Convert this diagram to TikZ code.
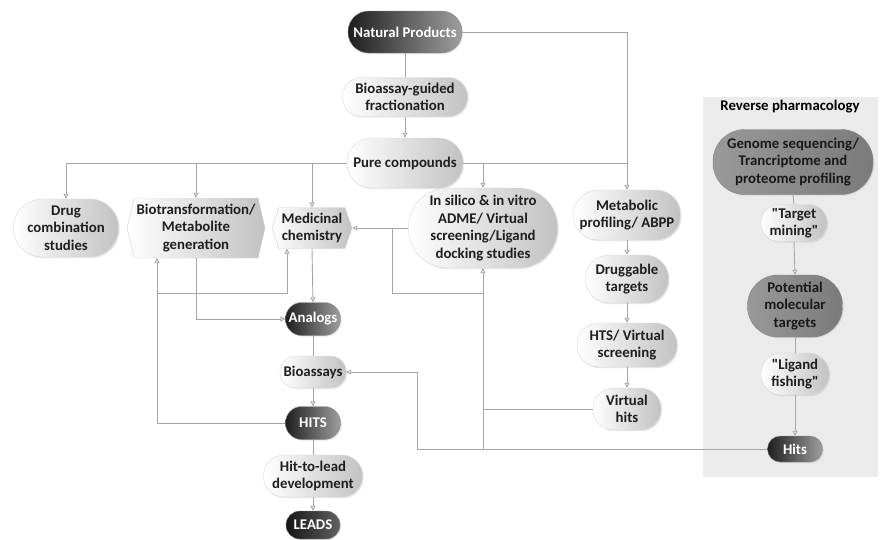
\documentclass[tikz,border=0pt]{standalone}
\usepackage{fontspec}
\setmainfont{Carlito}
\newfontfamily\qfont{Carlito}
\usetikzlibrary{shapes.misc,arrows.meta,shadows}
\definecolor{ln}{HTML}{A6A6A6}
\newcommand{\sq}{{\qfont\bfseries\char34}}
\begin{document}
\begin{tikzpicture}[x=1pt,y=-1pt,
  base/.style={font=\fontsize{14.8}{17.5}\selectfont\bfseries, align=center, inner sep=0pt},
  sz/.style 2 args={minimum width=#1pt, minimum height=#2pt, rounded corners=0.49*#2pt},
  shd/.style={drop shadow={opacity=0.18, shadow xshift=1.2pt, shadow yshift=-1.2pt}},
  lt/.style={base, rectangle, shd, left color=white, right color=black!24, draw=black!15, text=black!88},
  dk/.style={base, rectangle, shd, left color=black!88, right color=black!38, draw=black!45, text=white},
  md/.style={base, rectangle, shd, left color=black!40, right color=black!52, draw=black!50, text=black!90},
  hexa/.style={base, rectangle, text=black!88, path picture={
     \shadedraw[left color=white, right color=black!24, draw=black!18]
       ([xshift=7pt]path picture bounding box.north west) -- ([xshift=-7pt]path picture bounding box.north east)
       -- (path picture bounding box.east) -- ([xshift=-7pt]path picture bounding box.south east)
       -- ([xshift=7pt]path picture bounding box.south west) -- (path picture bounding box.west) -- cycle;}},
  con/.style={draw=ln, line width=0.9pt},
  arr/.style={con, -{Triangle[length=5pt,width=5pt,fill=white]}},
]
\useasboundingbox (0,0) rectangle (880,539);
\fill[white] (0,0) rectangle (880,539);

% Reverse pharmacology panel
\fill[black!8] (703,97) rectangle (878,477);
\node[base] (rpt) at (790,107) {Reverse pharmacology};

% Main flow
\node[dk, sz={114}{42}] (np) at (405,32) {Natural Products};
\node[lt, sz={125}{39}] (bio) at (405,97) {Bioassay-guided\\fractionation};
\node[lt, sz={116}{50}] (pure) at (405,163) {Pure compounds};
\node[lt, sz={105}{58}] (drug) at (66,228) {Drug\\combination\\studies};
\node[hexa, minimum width=138pt, minimum height=60pt] (biot) at (196,228) {Biotransformation/\\Metabolite\\generation};
\node[hexa, minimum width=80pt, minimum height=41pt] (med) at (312,228) {Medicinal\\chemistry};
\node[lt, sz={149}{80}] (insil) at (483,228) {In silico \& in vitro\\ADME/ Virtual\\screening/Ligand\\docking studies};
\node[lt, sz={107}{50}] (metab) at (627,215) {Metabolic\\profiling/ ABPP};
\node[lt, sz={83}{48}] (drugg) at (627,279) {Druggable\\targets};
\node[lt, sz={100}{44}] (hts) at (627,345) {HTS/ Virtual\\screening};
\node[lt, sz={68}{42}] (vhits) at (627,409) {Virtual\\hits};
\node[dk, sz={55}{33}] (ana) at (313,319) {Analogs};
\node[lt, sz={66}{32}] (bas) at (313,372) {Bioassays};
\node[dk, sz={55}{33}] (hits) at (313,423) {HITS};
\node[lt, sz={99}{42}] (h2l) at (313,476) {Hit-to-lead\\development};
\node[dk, sz={54}{28}, left color=black!92, right color=black!62] (leads) at (313,525) {LEADS};

% Reverse pharmacology flow
\node[md, sz={160}{65}] (gen) at (793,162) {Genome sequencing/\\Trancriptome and\\proteome profiling};
\node[lt, sz={66}{37}] (tm) at (794,223) {\sq Target\\mining\sq};
\node[md, sz={95}{62}] (pot) at (795,306) {Potential\\molecular\\targets};
\node[lt, sz={68}{42}] (lf) at (795,374) {\sq Ligand\\fishing\sq};
\node[dk, sz={55}{26}] (rh) at (795,449) {Hits};

% junction coordinates
\coordinate (jA) at (392,228);
\coordinate (jB) at (392,293);
\coordinate (jC) at (483,293);
\coordinate (jD) at (483,449);
\coordinate (jE) at (417,449);
\coordinate (jF) at (417,372);
\coordinate (jG) at (157,423);
\coordinate (jH) at (157,293);
\coordinate (jI) at (287,293);

% connectors
\draw[con] (np.south) -- (bio.north);
\draw[arr] (bio.south) -- (pure.north);
\draw[arr] (np.east) -| (metab.north);
\draw[con] (pure.east) -- (pure.east -| metab.north);
\draw[arr] (pure.east -| insil.north) -- (insil.north);
\draw[arr] (pure.west) -| (drug.north);
\draw[arr] (pure.west -| biot.north) -- (biot.north);
\draw[arr] (pure.west -| med.north) -- (med.north);
\draw[arr] (insil.west) -- (med.east);
\draw[con] (jA) -- (jB) -- (jC);
\draw[arr] (jD) -- (insil.south);
\draw[con] (vhits.west) -- (vhits.west -| jD);
\draw[arr] (rh.west) -- (jE) -- (jF) -- (bas.east);
\draw[arr] (med.south) -- (ana.north);
\draw[arr] (biot.south) |- (ana.west);
\draw[arr] (hits.west) -- (jG) -- (jG |- biot.south);
\draw[arr] (jH) -- (jI) -- (jI |- med.south);
\draw[con] (ana.south) -- (bas.north);
\draw[arr] (bas.south) -- (hits.north);
\draw[con] (hits.south) -- (h2l.north);
\draw[arr] (h2l.south) -- (leads.north);
\draw[arr] (metab.south) -- (drugg.north);
\draw[arr] (drugg.south) -- (hts.north);
\draw[arr] (hts.south) -- (vhits.north);
\draw[con] (gen.south) -- (tm.north);
\draw[arr] (tm.south) -- (pot.north);
\draw[con] (pot.south) -- (lf.north);
\draw[arr] (lf.south) -- (rh.north);
\end{tikzpicture}
\end{document}
